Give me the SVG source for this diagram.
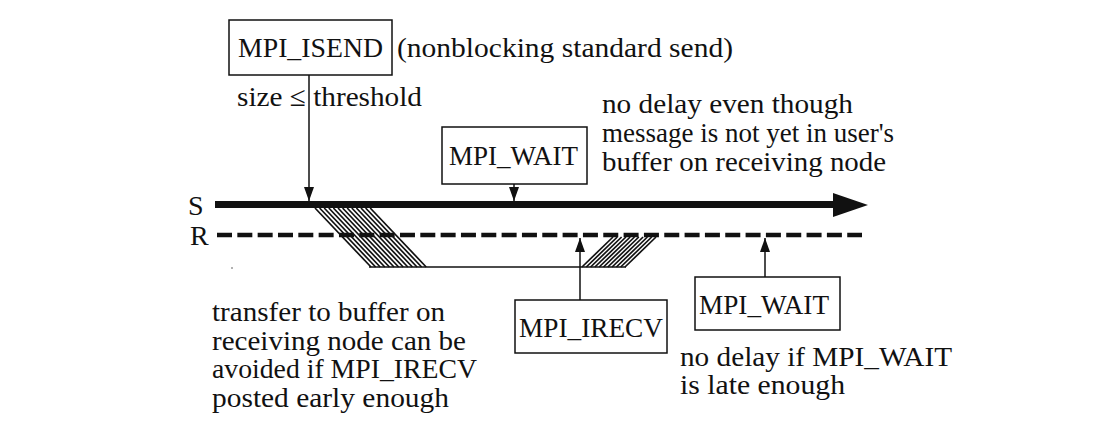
<svg xmlns="http://www.w3.org/2000/svg" width="1104" height="444" viewBox="0 0 1104 444">
<defs>
<style>
text{font-family:"Liberation Serif","Times New Roman",serif;font-size:28px;fill:#111}
.box{fill:#fff;stroke:#111;stroke-width:1.5}
.conn{stroke:#111;stroke-width:1.5;fill:none}
.hatch line{stroke:#111;stroke-width:1.7}
</style>
<marker id="ah" viewBox="0 0 14 10" refX="14" refY="5" markerWidth="14" markerHeight="10" markerUnits="userSpaceOnUse" orient="auto">
<path d="M0,0 L14,5 L0,10 z" fill="#111"/>
</marker>
</defs>
<rect width="1104" height="444" fill="#fff"/>

<g id="timelines">
<line x1="215" y1="204.5" x2="836" y2="204.5" stroke="#111" stroke-width="7"/>
<polygon points="833,193 868,205 833,217" fill="#111"/>
<line x1="217" y1="235" x2="862" y2="235" stroke="#111" stroke-width="4.5" stroke-dasharray="15 5.33"/>
<text x="188" y="215">S</text>
<text x="190" y="245">R</text>
</g>

<g id="transfer" class="hatch">
<line x1="315" y1="208" x2="371" y2="267"/>
<line x1="319.6" y1="208" x2="375.6" y2="267"/>
<line x1="324.2" y1="208" x2="380.2" y2="267"/>
<line x1="328.8" y1="208" x2="384.8" y2="267"/>
<line x1="333.4" y1="208" x2="389.4" y2="267"/>
<line x1="338" y1="208" x2="394" y2="267"/>
<line x1="342.6" y1="208" x2="398.6" y2="267"/>
<line x1="347.2" y1="208" x2="403.2" y2="267"/>
<line x1="351.8" y1="208" x2="407.8" y2="267"/>
<line x1="356.4" y1="208" x2="412.4" y2="267"/>
<line x1="361" y1="208" x2="417" y2="267"/>
<line x1="365.6" y1="208" x2="421.6" y2="267"/>
<line x1="370.2" y1="208" x2="426.2" y2="267"/>
<line x1="613" y1="237" x2="582" y2="267"/>
<line x1="617.3" y1="237" x2="586.3" y2="267"/>
<line x1="621.6" y1="237" x2="590.6" y2="267"/>
<line x1="625.9" y1="237" x2="594.9" y2="267"/>
<line x1="630.2" y1="237" x2="599.2" y2="267"/>
<line x1="634.5" y1="237" x2="603.5" y2="267"/>
<line x1="638.8" y1="237" x2="607.8" y2="267"/>
<line x1="643.1" y1="237" x2="612.1" y2="267"/>
<line x1="647.4" y1="237" x2="616.4" y2="267"/>
<line x1="651.7" y1="237" x2="620.7" y2="267"/>
<line x1="656" y1="237" x2="625" y2="267"/>
<line x1="369" y1="267" x2="626" y2="267" style="stroke-width:1.5"/>
</g>
<circle cx="232" cy="268" r="1" fill="#999"/>

<g id="connectors">
<line class="conn" x1="309" y1="75" x2="309" y2="201" marker-end="url(#ah)"/>
<line class="conn" x1="514" y1="184" x2="514" y2="201" marker-end="url(#ah)"/>
<line class="conn" x1="580" y1="300" x2="580" y2="238" marker-end="url(#ah)"/>
<line class="conn" x1="765" y1="277" x2="765" y2="238" marker-end="url(#ah)"/>
</g>

<g id="isend">
<rect class="box" x="229" y="20" width="163" height="55"/>
<text x="238" y="57" textLength="145" lengthAdjust="spacingAndGlyphs">MPI_ISEND</text>
<text x="397" y="57" textLength="336" lengthAdjust="spacingAndGlyphs">(nonblocking standard send)</text>
<text x="237" y="106" textLength="185" lengthAdjust="spacingAndGlyphs">size ≤ threshold</text>
</g>

<g id="wait1">
<rect class="box" x="442" y="127" width="145" height="57"/>
<text x="449" y="165" textLength="129" lengthAdjust="spacingAndGlyphs">MPI_WAIT</text>
<text x="602" y="113" textLength="251" lengthAdjust="spacingAndGlyphs">no delay even though</text>
<text x="602" y="142" textLength="292" lengthAdjust="spacingAndGlyphs">message is not yet in user's</text>
<text x="602" y="171" textLength="284" lengthAdjust="spacingAndGlyphs">buffer on receiving node</text>
</g>

<g id="irecv">
<rect class="box" x="515" y="300" width="152" height="53"/>
<text x="519" y="337" textLength="144" lengthAdjust="spacingAndGlyphs">MPI_IRECV</text>
<text x="212" y="321" textLength="233" lengthAdjust="spacingAndGlyphs">transfer to buffer on</text>
<text x="212" y="350" textLength="254" lengthAdjust="spacingAndGlyphs">receiving node can be</text>
<text x="212" y="378" textLength="265" lengthAdjust="spacingAndGlyphs">avoided if MPI_IRECV</text>
<text x="212" y="407" textLength="237" lengthAdjust="spacingAndGlyphs">posted early enough</text>
</g>

<g id="wait2">
<rect class="box" x="695" y="277" width="145" height="53"/>
<text x="699" y="314" textLength="130" lengthAdjust="spacingAndGlyphs">MPI_WAIT</text>
<text x="680" y="366" textLength="272" lengthAdjust="spacingAndGlyphs">no delay if MPI_WAIT</text>
<text x="680" y="394" textLength="165" lengthAdjust="spacingAndGlyphs">is late enough</text>
</g>
</svg>
